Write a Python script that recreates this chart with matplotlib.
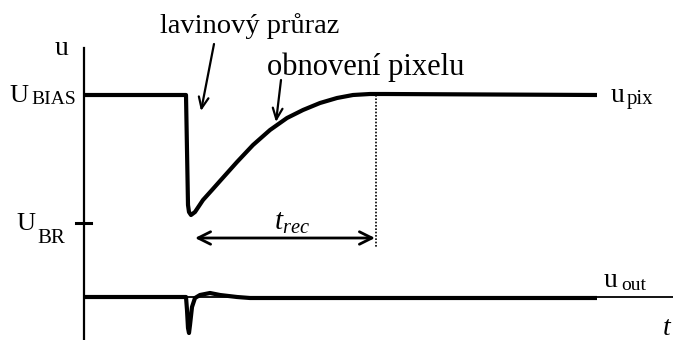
import matplotlib
matplotlib.use('Agg')
from matplotlib import pyplot as plt

plt.rcParams['font.family'] = ['Liberation Serif', 'DejaVu Serif']
plt.rcParams['mathtext.fontset'] = 'custom'
plt.rcParams['mathtext.rm'] = 'Liberation Serif'
plt.rcParams['mathtext.it'] = 'Liberation Serif:italic'

# schematic coordinates: time to the right, voltage downwards on screen
axis_x = 84
u_bias = 95
u_br = 223
u_out_base = 297

# pixel voltage: avalanche breakdown, then recovery back to U_BIAS
pix_t = [84, 186, 187, 188, 189, 191, 195, 203, 212, 220, 237, 253, 270,
         287, 303, 320, 337, 353, 370, 385, 597]
pix_u = [95, 95, 150, 205, 212, 215, 212, 200, 190, 181, 162, 145, 130,
         118, 110, 103, 98, 95, 94, 94, 95]

# output pulse
out_t = [84, 186, 187, 188, 189, 190, 192, 195, 200, 210, 220, 237, 250, 597]
out_u = [297, 297, 310, 328, 333, 325, 307, 298, 295, 293, 295, 297, 298, 298]

t_rec_start = 195
t_rec_end = 375

fig = plt.figure(figsize=(6.73, 3.40), dpi=100)
ax = fig.add_axes([0, 0, 1, 1])
ax.set_xlim(0, 673)
ax.set_ylim(340, 0)
ax.axis('off')

# axes
ax.plot([axis_x, axis_x], [48, 340], color='black', lw=1.6)
ax.plot([axis_x, 673], [u_out_base, u_out_base], color='black', lw=1.3)
ax.plot([axis_x - 8, axis_x + 7], [u_br, u_br], color='black', lw=2.2)

# traces
ax.plot(pix_t, pix_u, color='black', lw=3, solid_joinstyle='round', solid_capstyle='butt')
ax.plot(out_t, out_u, color='black', lw=3, solid_joinstyle='round', solid_capstyle='butt')

# recovery time marker
ax.plot([t_rec_end + 1, t_rec_end + 1], [u_bias, 247], color='black', lw=1.2, ls=(0, (1, 1)))
ax.annotate('', xy=(t_rec_end, 238), xytext=(t_rec_start, 238),
            arrowprops=dict(arrowstyle='<->,head_length=0.9,head_width=0.45', lw=2, color='black',
                            shrinkA=0, shrinkB=0))
ax.text(292, 223, '$t_{rec}$', fontsize=21, ha='center', va='center')

# annotations
ax.text(160, 33, 'lavinový průraz', fontsize=20.5, ha='left', va='baseline')
ax.annotate('', xy=(201, 111), xytext=(214, 44),
            arrowprops=dict(arrowstyle='->,head_length=0.8,head_width=0.35', lw=1.6, color='black',
                            shrinkA=0, shrinkB=0))
ax.text(267, 75, 'obnovení pixelu', fontsize=22, ha='left', va='baseline')
ax.annotate('', xy=(276, 122), xytext=(281, 80),
            arrowprops=dict(arrowstyle='->,head_length=0.8,head_width=0.35', lw=1.6, color='black',
                            shrinkA=0, shrinkB=0))

# labels
ax.text(55, 55, 'u', fontsize=20, ha='left', va='baseline')
ax.text(9, 102, 'U', fontsize=19, ha='left', va='baseline')
ax.text(31, 104, 'BIAS', fontsize=14, ha='left', va='baseline')
ax.text(16, 230, 'U', fontsize=19, ha='left', va='baseline')
ax.text(37, 243, 'BR', fontsize=15, ha='left', va='baseline')
ax.text(611, 102, 'u', fontsize=20, ha='left', va='baseline')
ax.text(627, 104, 'pix', fontsize=15, ha='left', va='baseline')
ax.text(604, 287, 'u', fontsize=20, ha='left', va='baseline')
ax.text(621, 290, 'out', fontsize=14, ha='left', va='baseline')
ax.text(662, 335, '$t$', fontsize=20, ha='left', va='baseline')

fig.savefig('out.png', dpi=100)
